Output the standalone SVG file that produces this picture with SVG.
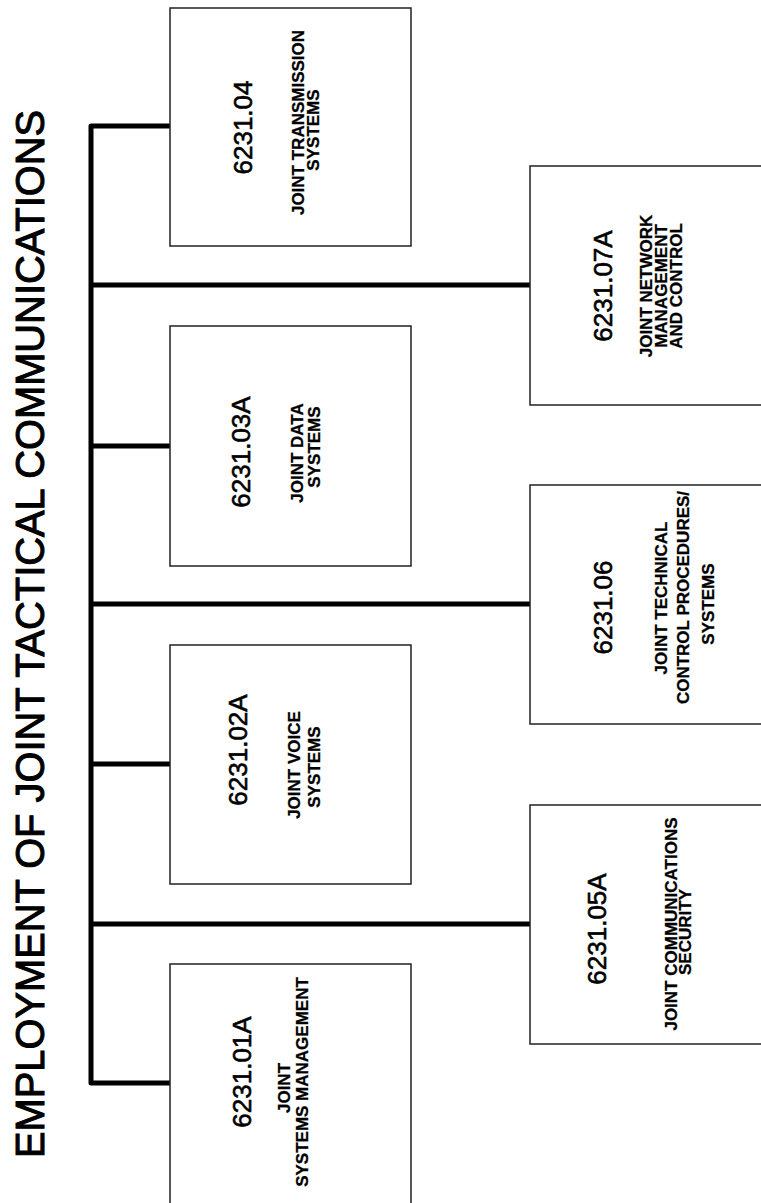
<svg xmlns="http://www.w3.org/2000/svg" width="761" height="1203" viewBox="0 0 761 1203">
<style>
.box{fill:#fff;stroke:#222;stroke-width:1.5}
.num{font-family:"Liberation Sans",Arial,sans-serif;font-size:26px;fill:#000;stroke:#000;stroke-width:0.6;text-anchor:middle}
.desc{font-family:"Liberation Sans",Arial,sans-serif;font-size:17px;font-weight:bold;fill:#000;stroke:#000;stroke-width:0.3;text-anchor:middle}
.title{font-family:"Liberation Sans",Arial,sans-serif;font-size:40px;fill:#000;stroke:#000;stroke-width:1}
.conn{fill:none;stroke:#000;stroke-width:5;stroke-linejoin:round}
</style>
<rect width="761" height="1203" fill="#fff"/>
<g id="title">
<text class="title" transform="translate(44,1158) rotate(-90)" textLength="1048" lengthAdjust="spacingAndGlyphs">EMPLOYMENT OF JOINT TACTICAL COMMUNICATIONS</text>
</g>
<g id="connectors">
<path class="conn" d="M170 126 H91 V1083 H170"/>
<path class="conn" d="M91 446 H170"/>
<path class="conn" d="M91 764 H170"/>
<path class="conn" d="M91 285 H530"/>
<path class="conn" d="M91 604 H530"/>
<path class="conn" d="M91 924 H530"/>
</g>
<g id="n6231_04">
<rect class="box" x="170" y="8" width="241" height="238"/>
<text class="num" transform="translate(252,127.5) rotate(-90)">6231.04</text>
<text class="desc" transform="translate(304,122.5) rotate(-90)">JOINT TRANSMISSION</text>
<text class="desc" transform="translate(319,130) rotate(-90)">SYSTEMS</text>
</g>
<g id="n6231_03A">
<rect class="box" x="170" y="326" width="241" height="240"/>
<text class="num" transform="translate(250,452) rotate(-90)">6231.03A</text>
<text class="desc" transform="translate(303,453) rotate(-90)">JOINT DATA</text>
<text class="desc" transform="translate(320,447) rotate(-90)">SYSTEMS</text>
</g>
<g id="n6231_02A">
<rect class="box" x="170" y="645" width="241" height="239"/>
<text class="num" transform="translate(247,750) rotate(-90)">6231.02A</text>
<text class="desc" transform="translate(300,765) rotate(-90)">JOINT VOICE</text>
<text class="desc" transform="translate(320,767) rotate(-90)">SYSTEMS</text>
</g>
<g id="n6231_01A">
<rect class="box" x="170" y="964" width="241" height="250"/>
<text class="num" transform="translate(251,1072) rotate(-90)">6231.01A</text>
<text class="desc" transform="translate(290,1088) rotate(-90)">JOINT</text>
<text class="desc" transform="translate(308,1082) rotate(-90)">SYSTEMS MANAGEMENT</text>
</g>
<g id="n6231_07A">
<rect class="box" x="530" y="166" width="240" height="239"/>
<text class="num" transform="translate(612,286) rotate(-90)">6231.07A</text>
<text class="desc" transform="translate(652,286) rotate(-90)">JOINT NETWORK</text>
<text class="desc" transform="translate(667,286) rotate(-90)">MANAGEMENT</text>
<text class="desc" transform="translate(682,286) rotate(-90)">AND CONTROL</text>
</g>
<g id="n6231_06">
<rect class="box" x="530" y="485" width="240" height="239"/>
<text class="num" transform="translate(612,607.5) rotate(-90)">6231.06</text>
<text class="desc" transform="translate(667,598) rotate(-90)">JOINT TECHNICAL</text>
<text class="desc" transform="translate(689,597.5) rotate(-90)">CONTROL PROCEDURES/</text>
<text class="desc" transform="translate(714,604) rotate(-90)">SYSTEMS</text>
</g>
<g id="n6231_05A">
<rect class="box" x="530" y="805" width="240" height="239"/>
<text class="num" transform="translate(606,929) rotate(-90)">6231.05A</text>
<text class="desc" transform="translate(677,924) rotate(-90)">JOINT COMMUNICATIONS</text>
<text class="desc" transform="translate(691,932) rotate(-90)">SECURITY</text>
</g>
</svg>
